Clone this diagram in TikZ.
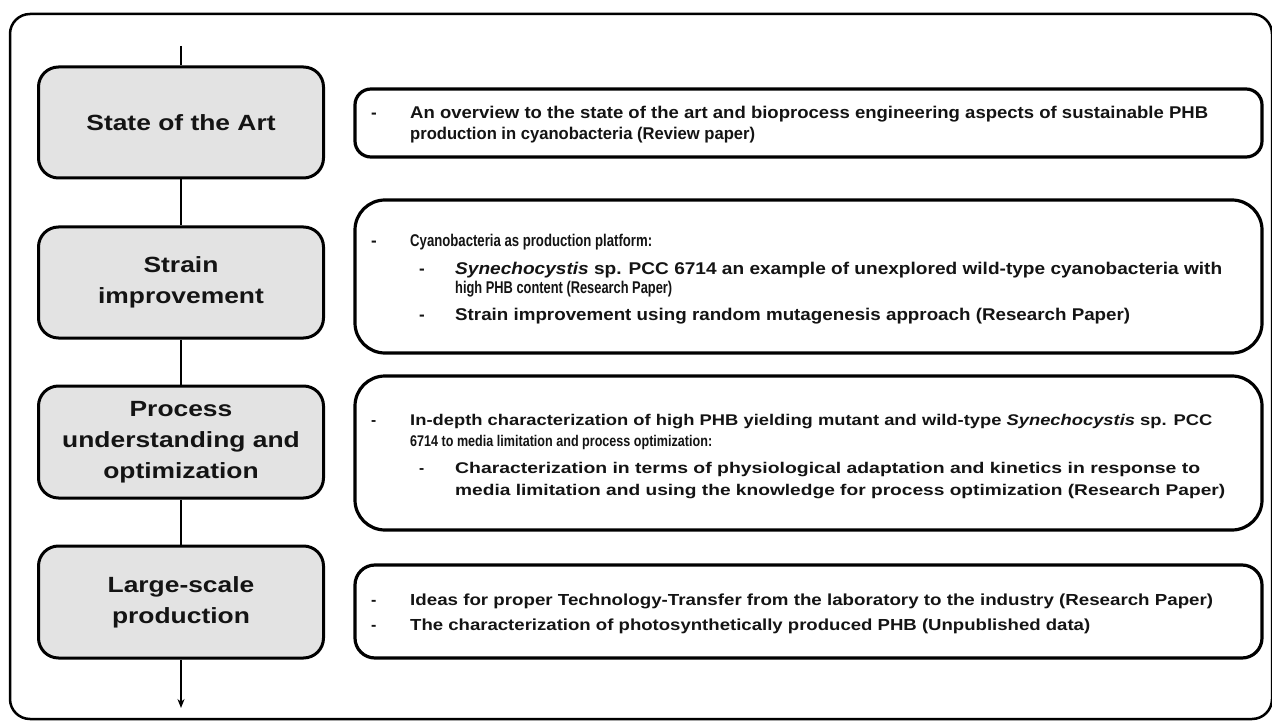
\documentclass[tikz,border=0pt]{standalone}
\usepackage{fontspec}
\usepackage{graphicx}
\setmainfont{Liberation Sans}
\newfontfamily\lblfont[FakeStretch=1.2]{Liberation Sans}
\usetikzlibrary{arrows.meta}
\newcommand\fitw[2]{\resizebox{#1}{\height}{#2}}
\definecolor{boxgray}{HTML}{E3E3E3}
\definecolor{ink}{HTML}{141414}
\tikzset{
  frame/.style={draw=black, line width=2.5pt, rounded corners=20pt},
  stage/.style={draw=black, line width=3pt, fill=boxgray, rounded corners=20pt,
    minimum width=285pt, minimum height=111pt, align=center, text=ink,
    font=\lblfont\bfseries\fontsize{22}{31}\selectfont, inner sep=0pt},
  info/.style={draw=black, line width=3.2pt, fill=white, minimum width=907pt, inner sep=0pt},
  txt/.style={anchor=base west, inner sep=0pt, text=ink, font=\bfseries\fontsize{17}{20}\selectfont},
  txtc/.style={txt, font=\bfseries\fontsize{15.5}{19}\selectfont},
  txtd/.style={txt, font=\bfseries\fontsize{16}{19}\selectfont},
  flow/.style={draw=black, line width=1.5pt},
}
\begin{document}
\begin{tikzpicture}[x=1pt,y=-1pt]
\useasboundingbox (0,0) rectangle (1272,722);
\draw[frame] (10,14) rectangle (1272,719);

% left stage boxes
\node[stage] (s1) at (181,122.5) {State of the Art};
\node[stage] (s2) at (181,282.5) {Strain\\improvement};
\node[stage, minimum height=112pt] (s3) at (181,442) {Process\\understanding and\\optimization};
\node[stage, minimum height=112pt] (s4) at (181,602) {Large-scale\\production};

\coordinate (top) at (181,46);
\coordinate (bot) at (181,708);
\draw[flow] (top) -- (s1.north);
\draw[flow] (s1.south) -- (s2.north);
\draw[flow] (s2.south) -- (s3.north);
\draw[flow] (s3.south) -- (s4.north);
\draw[flow, -{Stealth[length=9pt,width=7pt]}] (s4.south) -- (bot);

% right info boxes
\node[info, rounded corners=16pt, minimum height=68pt] (r1) at (808.5,123) {};
\node[info, rounded corners=30pt, minimum height=153pt] (r2) at (808.5,276.5) {};
\node[info, rounded corners=30pt, minimum height=154pt] (r3) at (808.5,453) {};
\node[info, rounded corners=20pt, minimum height=93pt] (r4) at (808.5,611.5) {};

% box 1 text
\node[txt] (r1d) at (371,119) {-};
\node[txt] (r1a) at (410,119) {\fitw{798pt}{An overview to the state of the art and bioprocess engineering aspects of sustainable PHB}};
\node[txt] (r1b) at (410,140) {\fitw{345pt}{production in cyanobacteria (Review paper)}};

% box 2 text
\node[txt] (r2d) at (371,247) {-};
\node[txt] (r2a) at (410,247) {\fitw{242pt}{Cyanobacteria as production platform:}};
\node[txt] (r2e) at (419,274) {-};
\node[txt] (r2b) at (455,274) {\fitw{767pt}{\textit{Synechocystis} sp. PCC 6714 an example of unexplored wild-type cyanobacteria with}};
\node[txt] (r2c) at (455,294) {\fitw{217pt}{high PHB content (Research Paper)}};
\node[txt] (r2f) at (419,320) {-};
\node[txt] (r2g) at (455,320) {\fitw{675pt}{Strain improvement using random mutagenesis approach (Research Paper)}};

% box 3 text
\node[txtc] (r3d) at (371,425) {-};
\node[txtc] (r3a) at (410,425) {\fitw{802pt}{In-depth characterization of high PHB yielding mutant and wild-type \textit{Synechocystis} sp. PCC}};
\node[txtc] (r3b) at (410,446) {\fitw{302pt}{6714 to media limitation and process optimization:}};
\node[txtc] (r3e) at (419,473) {-};
\node[txtc] (r3c) at (455,473) {\fitw{745pt}{Characterization in terms of physiological adaptation and kinetics in response to}};
\node[txtc] (r3f) at (455,495) {\fitw{770pt}{media limitation and using the knowledge for process optimization (Research Paper)}};

% box 4 text
\node[txtd] (r4d) at (371,605) {-};
\node[txtd] (r4a) at (410,605) {\fitw{803pt}{Ideas for proper Technology-Transfer from the laboratory to the industry (Research Paper)}};
\node[txtd] (r4e) at (371,630) {-};
\node[txtd] (r4b) at (410,630) {\fitw{680pt}{The characterization of photosynthetically produced PHB (Unpublished data)}};
\end{tikzpicture}
\end{document}
